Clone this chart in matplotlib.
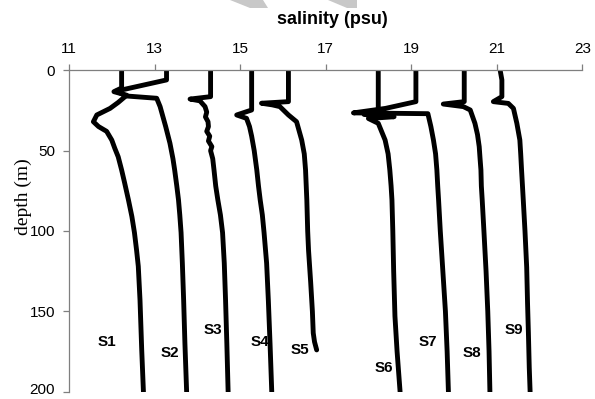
import matplotlib
matplotlib.use("Agg")
import matplotlib.pyplot as plt
import matplotlib.transforms as mtransforms
from matplotlib.patches import Polygon

# Salinity profiles (psu) against depth (m) for stations S1..S9
s1_depth = [0, 11, 13.3, 15.5, 20, 23.7, 27.8, 32, 35, 38, 43.4, 48.5, 53.8, 62, 70, 80.7, 91, 101, 112, 122, 143, 174, 200]
s1_sal = [12.23, 12.23, 12.05, 12.35, 12.15, 11.96, 11.65, 11.57, 11.69, 11.88, 12.0, 12.07, 12.15, 12.23, 12.3, 12.39, 12.47, 12.53, 12.58, 12.62, 12.66, 12.70, 12.74]

s2_depth = [0, 6, 13, 16, 17.4, 22.6, 35, 45.4, 55, 62, 72, 80.7, 90, 101, 120, 143, 170, 200]
s2_sal = [13.28, 13.28, 12.1, 12.35, 13.05, 13.13, 13.26, 13.36, 13.43, 13.47, 13.52, 13.56, 13.59, 13.62, 13.65, 13.68, 13.71, 13.75]

s3_depth = [0, 16.4, 17.9, 19, 22.6, 26, 29, 32, 35, 38, 41, 44, 47.5, 50, 55, 62, 72, 80.7, 90, 101, 120, 143, 170, 200]
s3_sal = [14.31, 14.31, 13.83, 14.06, 14.18, 14.22, 14.19, 14.25, 14.26, 14.22, 14.29, 14.26, 14.34, 14.31, 14.36, 14.39, 14.43, 14.48, 14.54, 14.59, 14.63, 14.66, 14.69, 14.72]

s4_depth = [0, 24.7, 27.8, 29.9, 35, 41, 50, 62, 72, 80.7, 90, 101, 120, 143, 170, 200]
s4_sal = [15.27, 15.27, 14.92, 15.15, 15.22, 15.27, 15.33, 15.39, 15.43, 15.47, 15.52, 15.56, 15.62, 15.66, 15.70, 15.74]

s5_depth = [0, 19.5, 20.5, 21.5, 22.6, 27.8, 32, 43.4, 52, 62, 80.7, 100, 112, 132, 150, 163.5, 169, 174]
s5_sal = [16.13, 16.13, 15.5, 15.75, 15.93, 16.13, 16.32, 16.44, 16.5, 16.53, 16.56, 16.58, 16.6, 16.65, 16.69, 16.71, 16.74, 16.79]

s6_depth = [0, 24.7, 27.5, 28.9, 30, 33, 43.4, 52, 62, 72, 80.7, 100, 125, 153, 175, 200]
s6_sal = [18.23, 18.23, 17.9, 18.6, 18.0, 18.23, 18.39, 18.46, 18.5, 18.53, 18.55, 18.57, 18.59, 18.62, 18.67, 18.74]

s7_depth = [0, 19.5, 23.7, 26.5, 27, 35, 43.4, 52, 62, 72, 80.7, 100, 125, 150, 175, 200]
s7_sal = [19.11, 19.11, 18.4, 17.65, 19.39, 19.46, 19.52, 19.57, 19.6, 19.62, 19.64, 19.68, 19.74, 19.8, 19.84, 19.87]

s8_depth = [0, 19.5, 21, 22.6, 24.7, 33, 40, 47.5, 55, 62, 72, 80.7, 100, 125, 150, 175, 200]
s8_sal = [20.24, 20.24, 19.75, 20.22, 20.38, 20.49, 20.55, 20.59, 20.61, 20.63, 20.64, 20.66, 20.7, 20.75, 20.79, 20.82, 20.84]

s9_depth = [0, 6, 16.4, 19.5, 20.6, 23.7, 33, 43.4, 52, 62, 80.7, 100, 122.6, 145, 163.5, 185, 200]
s9_sal = [21.08, 21.12, 21.12, 20.92, 21.27, 21.39, 21.47, 21.54, 21.56, 21.58, 21.62, 21.66, 21.7, 21.72, 21.74, 21.76, 21.78]

stations = ["S1", "S2", "S3", "S4", "S5", "S6", "S7", "S8", "S9"]
label_sal = [11.88, 13.36, 14.37, 15.47, 16.4, 18.35, 19.4, 20.42, 21.39]
label_depth = [169, 176, 161.6, 169, 174, 185.5, 169, 175.7, 161.6]

x_ticks = [11, 13, 15, 17, 19, 21, 23]
y_ticks = [0, 50, 100, 150, 200]

profiles = [
    (s1_sal, s1_depth), (s2_sal, s2_depth), (s3_sal, s3_depth),
    (s4_sal, s4_depth), (s5_sal, s5_depth), (s6_sal, s6_depth),
    (s7_sal, s7_depth), (s8_sal, s8_depth), (s9_sal, s9_depth),
]

W, H = 595, 399
fig = plt.figure(figsize=(W / 100, H / 100), dpi=100)
ax = fig.add_axes([69 / W, 1 - 391.7 / H, (582.3 - 69) / W, (391.7 - 70.3) / H])

# faint grey shapes behind the title
for pts in ([(230, 0), (263, 0), (268, 8), (250, 8)],
            [(328, 0), (357, 0), (357, 8), (347, 8)]):
    fig.patches.append(Polygon([(x / W, 1 - y / H) for x, y in pts], closed=True,
                               transform=fig.transFigure, facecolor="#c8c8c8",
                               edgecolor="none", zorder=0))

for sal, depth in profiles:
    ax.plot(sal, depth, color="black", lw=3.5, solid_capstyle="round",
            solid_joinstyle="round")

for name, x, y in zip(stations, label_sal, label_depth):
    ax.text(x, y, name, ha="center", va="center", fontsize=11,
            fontweight="bold", family="Liberation Sans")

ax.set_xlim(11, 23)
ax.set_ylim(200, 0)
ax.set_xticks(x_ticks)
ax.set_yticks(y_ticks)
ax.xaxis.tick_top()
for side in ("right", "bottom"):
    ax.spines[side].set_visible(False)
for side in ("top", "left"):
    ax.spines[side].set_color("#7f7f7f")
    ax.spines[side].set_linewidth(0.9)
ax.tick_params(axis="both", direction="out", length=4, width=0.9,
               color="#7f7f7f", pad=6, labelsize=11)
for lab in ax.get_xticklabels() + ax.get_yticklabels():
    lab.set_family("Liberation Sans")

# lift the bottom depth label a little so it stays inside the figure
fig.canvas.draw()
bottom_lab = ax.get_yticklabels()[-1]
bottom_lab.set_transform(bottom_lab.get_transform() +
                         mtransforms.ScaledTranslation(0, 2 / 72, fig.dpi_scale_trans))

fig.text(332 / W, 1 - 20 / H, "salinity (psu)", ha="center", va="center",
         fontsize=13, fontweight="bold", family="Liberation Sans")
fig.text(23 / W, 1 - 197 / H, "depth (m)", ha="center", va="center",
         rotation=90, fontsize=14, family="Liberation Serif")

fig.savefig("out.png", dpi=100)
